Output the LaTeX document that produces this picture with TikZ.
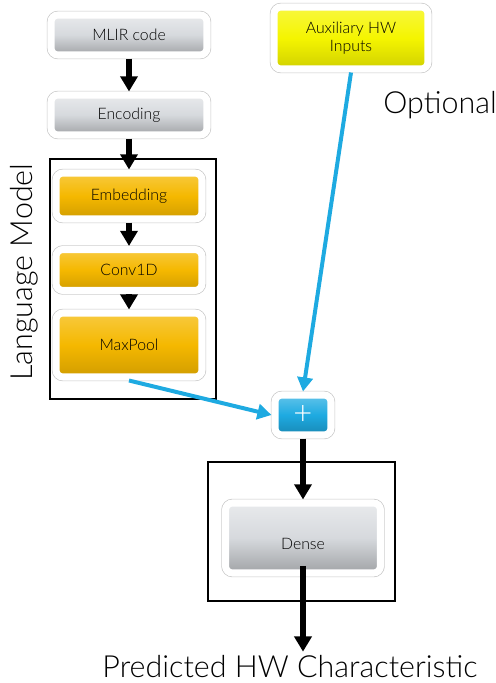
\documentclass[tikz,border=0pt]{standalone}
\usepackage{fontspec}
\setmainfont{Lato}
\newfontfamily\thinfont{Lato Light}
\usetikzlibrary{arrows.meta}

\definecolor{boxgray}{RGB}{214,217,221}
\definecolor{boxorange}{RGB}{245,184,0}
\definecolor{boxyellow}{RGB}{245,245,0}
\definecolor{linkblue}{RGB}{30,170,225}

\begin{document}
\begin{tikzpicture}[x=0.03cm,y=-0.03cm,
   blk/.style={rounded corners=6pt,draw=white,line width=6pt,
      preaction={draw=black!22,line width=7.2pt},
      inner sep=0pt,align=center,text=black,
      font=\thinfont\fontsize{13.5}{15}\selectfont},
   graybox/.style={blk,top color=boxgray!55!white,bottom color=boxgray!75!black,middle color=boxgray},
   orangebox/.style={blk,top color=boxorange!75!white,bottom color=boxorange!85!black,middle color=boxorange},
   yellowbox/.style={blk,top color=boxyellow!75!white,bottom color=boxyellow!85!black,middle color=boxyellow},
   bluebox/.style={blk,top color=linkblue!70!white,bottom color=linkblue!80!black,middle color=linkblue,
      text=white,font=\thinfont\fontsize{28}{28}\selectfont},
   frame/.style={draw=black,line width=1.7pt,inner sep=0pt},
   arr/.style={line width=4.6pt,-{Triangle[width=14.5pt,length=13pt]}},
   link/.style={linkblue,line width=3.4pt,-{Triangle[width=13pt,length=12pt]}},
   big/.style={font=\thinfont\fontsize{26}{28}\selectfont,text=black}]

\useasboundingbox (0,0) rectangle (495,683);

% frames
\node[frame,minimum width=4.98cm,minimum height=7.2cm] (lm) at (133,279) {};
\node[frame,minimum width=5.61cm,minimum height=4.17cm] (densefr) at (301.5,531.5) {};

% blocks
\node[graybox,minimum width=4.68cm,minimum height=1.2cm] (mlir) at (129,35) {MLIR code};
\node[graybox,minimum width=4.68cm,minimum height=1.2cm] (enc) at (129,115) {Encoding};
\node[orangebox,minimum width=4.38cm,minimum height=1.38cm] (emb) at (129,196) {Embedding};
\node[orangebox,minimum width=4.38cm,minimum height=1.23cm] (conv) at (129,270) {Conv1D};
\node[orangebox,minimum width=4.38cm,minimum height=1.92cm] (pool) at (129,345) {MaxPool};
\node[yellowbox,minimum width=4.62cm,minimum height=1.86cm] (aux) at (351,38) {Auxiliary HW\\Inputs};
\node[bluebox,minimum width=1.68cm,minimum height=1.2cm] (plus) at (303,415) {+};
\node[graybox,minimum width=4.65cm,minimum height=2.1cm,text height=20pt] (dense) at (303,538) {Dense};

% labels
\node[big] (opt) at (440,105) {Optional};
\node[big,rotate=90] (lmlabel) at (24,272) {Language Model};
\node[big] (pred) at (290,667) {Predicted HW Characteristic};

% connectors
\draw[arr] (mlir) -- (enc);
\draw[arr] (enc) -- (emb);
\draw[arr] (emb) -- (conv);
\draw[arr] (conv) -- (pool);
\draw[link] (pool.south) -- (plus.west);
\draw[link] (aux.south) -- (plus.north);
\draw[arr] (plus) -- (dense);
\draw[arr] ([yshift=9pt]dense.south) -- (pred.north -| dense.south);
\end{tikzpicture}
\end{document}
